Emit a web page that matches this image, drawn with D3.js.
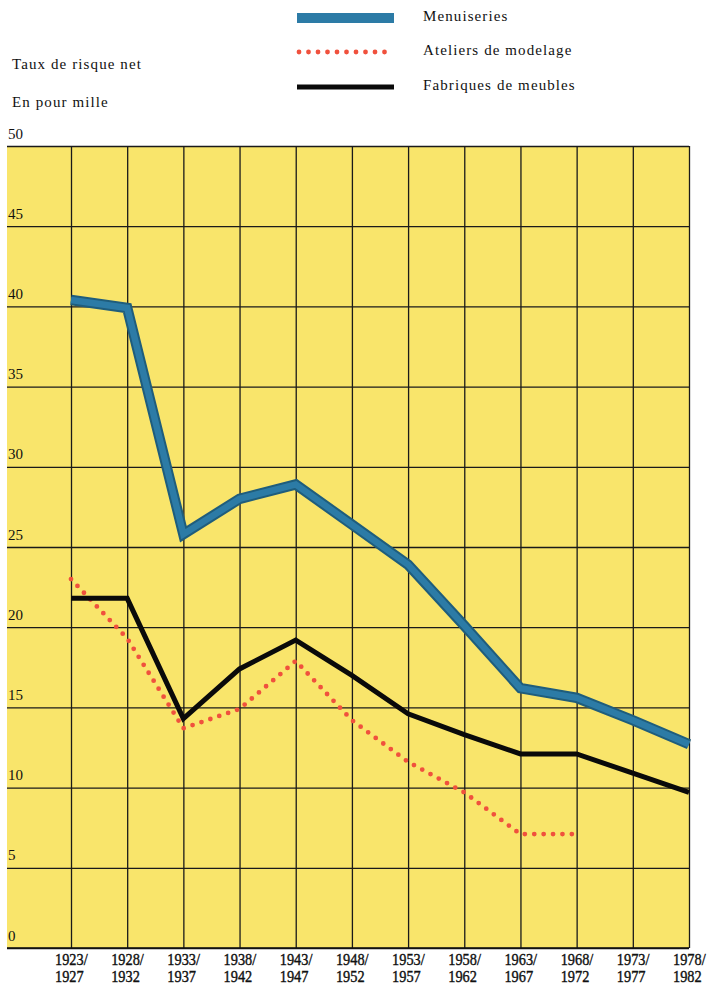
<!DOCTYPE html>
<html>
<head>
  <meta charset="utf-8">
  <style>
    body {
      margin: 0;
      background: #fff;
    }

    svg {
      display: block;
    }

    svg text {
      font-family: "Liberation Serif", "Times New Roman", "DejaVu Serif", serif;
    }

    .grid line {
      stroke: #1a1a1a;
      stroke-width: 1.3;
    }

    .grid .domain {
      display: none;
    }

    .ylab text {
      font-size: 15px;
      fill: #111;
    }

    .legend text, .title {
      font-size: 15px;
      letter-spacing: 1.1px;
      fill: #111;
    }

    .xlab text {
      font-size: 16.3px;
      fill: #111;
      stroke: #111;
      stroke-width: 0.4px;
    }
  </style>
  <script src="https://cdnjs.cloudflare.com/ajax/libs/d3/7.8.5/d3.min.js"></script>
</head>

<body>
  <script>
    const width = 708;
    const height = 986;

    // periods on the x axis
    const periods = [
      ["1923/", "1927"], ["1928/", "1932"], ["1933/", "1937"], ["1938/", "1942"],
      ["1943/", "1947"], ["1948/", "1952"], ["1953/", "1957"], ["1958/", "1962"],
      ["1963/", "1967"], ["1968/", "1972"], ["1973/", "1977"], ["1978/", "1982"]
    ];
    const yTicks = [0, 5, 10, 15, 20, 25, 30, 35, 40, 45, 50];

    // taux de risque net, en pour mille
    const menuiseries = [40.4, 39.9, 25.8, 28.0, 28.9, 26.4, 23.9, 20.1, 16.2, 15.6, 14.2, 12.7];
    const ateliers = [23.0, 19.3, 13.7, 14.9, 17.9, 14.2, 11.6, 9.7, 7.1, 7.1];
    const fabriques = [21.8, 21.8, 14.3, 17.4, 19.2, 17.0, 14.6, 13.3, 12.1, 12.1, 10.9, 9.7];

    const plotLeft = 7, plotRight = 689, plotTop = 146, plotBottom = 948;

    const x = d3.scaleLinear().domain([0, periods.length - 1]).range([71, plotRight]);
    const y = d3.scaleLinear().domain([0, 50]).range([plotBottom, plotTop]);

    const svg = d3.select('body')
      .append('svg')
      .attr('width', width)
      .attr('height', height);

    // yellow background
    svg.append('rect')
      .attr('x', plotLeft)
      .attr('y', plotTop)
      .attr('width', plotRight - plotLeft)
      .attr('height', plotBottom - plotTop)
      .attr('fill', '#f9e56b');

    // horizontal grid + labels above each line
    const yAxis = svg.append('g')
      .attr('class', 'grid ylab')
      .attr('transform', `translate(${plotLeft},0)`)
      .call(d3.axisLeft(y).tickValues(yTicks).tickSize(-(plotRight - plotLeft)).tickFormat(d3.format('d')));
    yAxis.selectAll('text')
      .attr('x', 1)
      .attr('dy', -8)
      .attr('text-anchor', 'start');

    // vertical grid
    svg.append('g')
      .attr('class', 'grid')
      .attr('transform', `translate(0,${plotBottom})`)
      .call(d3.axisBottom(x).tickValues(d3.range(periods.length)).tickSize(-(plotBottom - plotTop)).tickFormat(''));

    // bottom border
    svg.append('line')
      .attr('x1', plotLeft).attr('x2', plotRight)
      .attr('y1', plotBottom).attr('y2', plotBottom)
      .attr('stroke', '#111').attr('stroke-width', 1.6);

    // x labels, two lines each, narrow type
    const xl = svg.append('g').attr('class', 'xlab').selectAll('g')
      .data(periods)
      .join('g')
      .attr('transform', (d, i) => `translate(${x(i) - 16},964.5) scale(0.88,1)`);
    xl.append('text').text(d => d[0]);
    xl.append('text').attr('y', 17.8).text(d => d[1]);

    const line = d3.line()
      .x((d, i) => x(i))
      .y(d => y(d));

    // menuiseries: thick blue band with darker edge
    svg.append('path')
      .datum(menuiseries)
      .attr('d', line)
      .attr('fill', 'none')
      .attr('stroke', '#1f5d7c')
      .attr('stroke-width', 10.5)
      .attr('stroke-linejoin', 'miter');
    svg.append('path')
      .datum(menuiseries)
      .attr('d', line)
      .attr('fill', 'none')
      .attr('stroke', '#2c7ba6')
      .attr('stroke-width', 6.5)
      .attr('stroke-linejoin', 'miter');

    // ateliers de modelage: red dots
    svg.append('path')
      .datum(ateliers)
      .attr('d', line)
      .attr('fill', 'none')
      .attr('stroke', '#f0513d')
      .attr('stroke-width', 4.8)
      .attr('stroke-linecap', 'round')
      .attr('stroke-dasharray', '0 9.4');

    // fabriques de meubles: black
    svg.append('path')
      .datum(fabriques)
      .attr('d', line)
      .attr('fill', 'none')
      .attr('stroke', '#0a0a0a')
      .attr('stroke-width', 5)
      .attr('stroke-linejoin', 'miter');

    // titles
    svg.append('text').attr('class', 'title').attr('x', 12).attr('y', 69).text('Taux de risque net');
    svg.append('text').attr('class', 'title').attr('x', 12).attr('y', 107).text('En pour mille');

    // legend
    const legend = svg.append('g').attr('class', 'legend');
    legend.append('line')
      .attr('x1', 297).attr('x2', 394).attr('y1', 18).attr('y2', 18)
      .attr('stroke', '#2c7ba6').attr('stroke-width', 10);
    legend.append('line')
      .attr('x1', 299).attr('x2', 394).attr('y1', 52).attr('y2', 52)
      .attr('stroke', '#f0513d').attr('stroke-width', 4.8)
      .attr('stroke-linecap', 'round').attr('stroke-dasharray', '0 9.5');
    legend.append('line')
      .attr('x1', 297).attr('x2', 394).attr('y1', 87).attr('y2', 87)
      .attr('stroke', '#0a0a0a').attr('stroke-width', 5);
    legend.append('text').attr('x', 423).attr('y', 21).text('Menuiseries');
    legend.append('text').attr('x', 423).attr('y', 55).text('Ateliers de modelage');
    legend.append('text').attr('x', 423).attr('y', 90).text('Fabriques de meubles');
  </script>
</body>
</html>
